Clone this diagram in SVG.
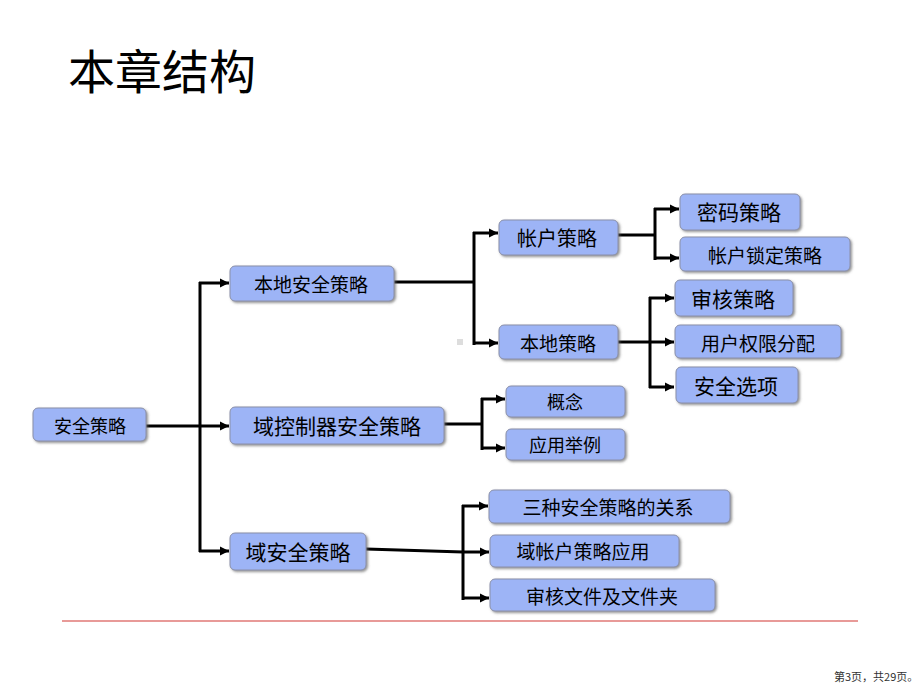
<svg xmlns="http://www.w3.org/2000/svg" width="920" height="690" viewBox="0 0 920 690">
<defs>
<marker id="ah" markerUnits="userSpaceOnUse" markerWidth="10" markerHeight="10" refX="9" refY="5" orient="auto">
<path d="M0,0.5 L9,5 L0,9.5 Z" fill="#000"/>
</marker>
<filter id="sh" x="-10%" y="-20%" width="130%" height="160%">
<feDropShadow dx="1.5" dy="1.5" stdDeviation="0.8" flood-color="#666" flood-opacity="0.7"/>
</filter>
</defs>
<style>
.box{fill:#9db4f6;stroke:#8a8fa8;stroke-width:1;filter:url(#sh)}
.t{font-family:"Noto Sans CJK SC","Liberation Sans",sans-serif;fill:#000;text-anchor:middle;dominant-baseline:central}
.c{fill:none;stroke:#000;stroke-width:3}
.a{fill:none;stroke:#000;stroke-width:3;marker-end:url(#ah)}
</style>
<rect width="920" height="690" fill="#fff"/>
<text x="68" y="89" font-family="Noto Sans CJK SC, Liberation Sans, sans-serif" font-size="47" fill="#000">本章结构</text>

<g id="connectors">
<line class="c" x1="146" y1="426" x2="200" y2="426"/>
<line class="c" x1="200" y1="282" x2="200" y2="552"/>
<line class="a" x1="199" y1="283" x2="229" y2="283"/>
<line class="a" x1="199" y1="426" x2="229" y2="426"/>
<line class="a" x1="199" y1="551" x2="229" y2="551"/>

<line class="c" x1="394" y1="282" x2="474" y2="282"/>
<line class="c" x1="474" y1="232" x2="474" y2="345"/>
<line class="a" x1="473" y1="233" x2="498" y2="233"/>
<line class="a" x1="473" y1="343" x2="498" y2="343"/>

<line class="c" x1="618" y1="235" x2="655" y2="235"/>
<line class="c" x1="655" y1="208" x2="655" y2="260"/>
<line class="a" x1="654" y1="209" x2="679" y2="209"/>
<line class="a" x1="654" y1="258" x2="679" y2="258"/>

<line class="c" x1="618" y1="342" x2="650" y2="342"/>
<line class="c" x1="650" y1="297" x2="650" y2="388"/>
<line class="a" x1="649" y1="298" x2="674" y2="298"/>
<line class="a" x1="649" y1="342" x2="674" y2="342"/>
<line class="a" x1="649" y1="387" x2="674" y2="387"/>

<line class="c" x1="444" y1="424" x2="482" y2="424"/>
<line class="c" x1="482" y1="398" x2="482" y2="450"/>
<line class="a" x1="481" y1="399" x2="505" y2="399"/>
<line class="a" x1="481" y1="448" x2="505" y2="448"/>

<line class="c" x1="366" y1="549" x2="463" y2="552"/>
<line class="c" x1="463" y1="505" x2="463" y2="600"/>
<line class="a" x1="462" y1="506" x2="488" y2="506"/>
<line class="a" x1="462" y1="552" x2="489" y2="552"/>
<line class="a" x1="462" y1="598" x2="489" y2="598"/>
</g>
<rect x="457" y="339" width="6" height="6" fill="#ddd"/>

<g id="n-root"><rect class="box" x="33" y="408" width="113" height="33" rx="5"/><text class="t" x="90" y="425" font-size="18">安全策略</text></g>
<g id="n-local-sec"><rect class="box" x="230" y="266" width="164" height="35" rx="5"/><text class="t" x="311" y="283" font-size="19">本地安全策略</text></g>
<g id="n-dc-sec"><rect class="box" x="230" y="407" width="214" height="37" rx="5"/><text class="t" x="337" y="425" font-size="21">域控制器安全策略</text></g>
<g id="n-domain-sec"><rect class="box" x="230" y="533" width="136" height="37" rx="5"/><text class="t" x="298" y="551" font-size="21">域安全策略</text></g>
<g id="n-account"><rect class="box" x="499" y="220" width="119" height="35" rx="5"/><text class="t" x="557" y="237" font-size="20">帐户策略</text></g>
<g id="n-local"><rect class="box" x="499" y="325" width="119" height="34" rx="5"/><text class="t" x="558" y="342" font-size="19">本地策略</text></g>
<g id="n-password"><rect class="box" x="680" y="194" width="120" height="36" rx="5"/><text class="t" x="739" y="211" font-size="21">密码策略</text></g>
<g id="n-lockout"><rect class="box" x="680" y="237" width="170" height="34" rx="5"/><text class="t" x="765" y="254" font-size="19">帐户锁定策略</text></g>
<g id="n-audit"><rect class="box" x="675" y="280" width="118" height="36" rx="5"/><text class="t" x="733" y="298" font-size="21">审核策略</text></g>
<g id="n-rights"><rect class="box" x="675" y="325" width="166" height="33" rx="5"/><text class="t" x="758" y="342" font-size="19">用户权限分配</text></g>
<g id="n-options"><rect class="box" x="676" y="367" width="122" height="36" rx="5"/><text class="t" x="736" y="385" font-size="21">安全选项</text></g>
<g id="n-concept"><rect class="box" x="506" y="386" width="119" height="31" rx="5"/><text class="t" x="565" y="401" font-size="18">概念</text></g>
<g id="n-example"><rect class="box" x="506" y="429" width="119" height="31" rx="5"/><text class="t" x="565" y="444" font-size="18">应用举例</text></g>
<g id="n-relation"><rect class="box" x="489" y="490" width="241" height="33" rx="5"/><text class="t" x="608" y="506" font-size="19">三种安全策略的关系</text></g>
<g id="n-domain-account"><rect class="box" x="490" y="535" width="189" height="32" rx="5"/><text class="t" x="583" y="550" font-size="19">域帐户策略应用</text></g>
<g id="n-audit-files"><rect class="box" x="490" y="579" width="225" height="32" rx="5"/><text class="t" x="602" y="595" font-size="19">审核文件及文件夹</text></g>

<line x1="62" y1="621" x2="858" y2="621" stroke="#e89a98" stroke-width="2"/>
<text x="834" y="681" font-family="Noto Sans CJK SC, Liberation Sans, sans-serif" font-size="11" fill="#333">第3页，共29页。</text>
</svg>
